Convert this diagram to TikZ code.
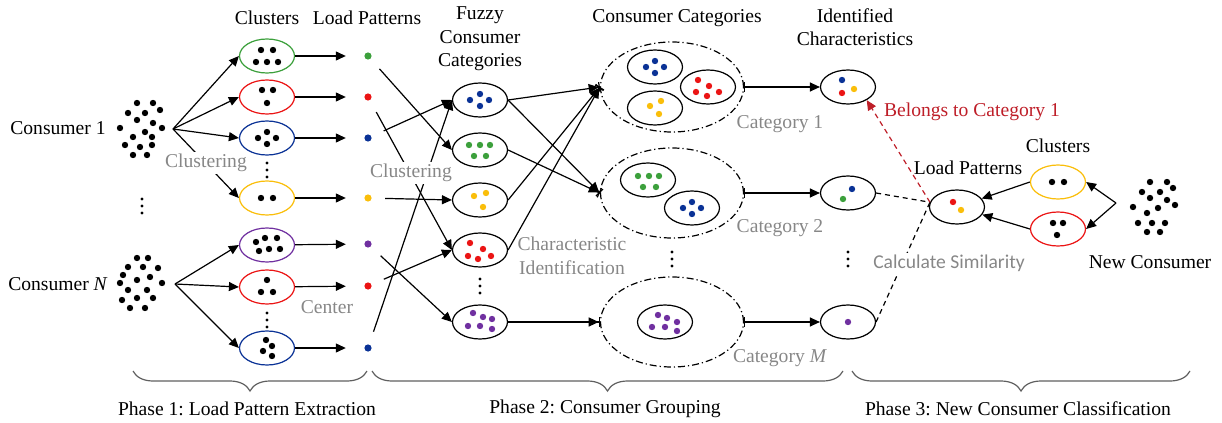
\documentclass[tikz,border=0pt]{standalone}
\usepackage{fontspec}
\setmainfont{Liberation Serif}
\newfontfamily\calfont{Carlito}
\usetikzlibrary{arrows.meta,shapes.geometric,decorations.pathreplacing}
\definecolor{cgreen}{RGB}{60,160,60}
\definecolor{cred}{RGB}{235,20,20}
\definecolor{cblue}{RGB}{10,50,150}
\definecolor{cyellow}{RGB}{250,190,10}
\definecolor{cpurple}{RGB}{112,48,160}
\definecolor{cgray}{RGB}{135,135,135}
\definecolor{cdred}{RGB}{190,30,40}
\frenchspacing

\tikzset{
  grp/.style={ellipse,draw,fill=white,minimum width=27.5pt,minimum height=17pt,inner sep=0pt},
  catbox/.style={ellipse,draw,dash pattern=on 3.5pt off 1.5pt on 0.6pt off 1.5pt,minimum width=71.5pt,minimum height=45pt,inner sep=0pt},
  lp/.style={circle,inner sep=0pt,minimum size=3.6pt},
  barr/.style={-{Triangle[length=5pt,width=4.5pt] Bar[width=5pt]}},
  gtext/.style={text=cgray},
  dash line/.style={dash pattern=on 2.5pt off 2pt},
}
% dots around a point
\newcommand\spots[3]{\begin{scope}[shift={(#1)}]
  \foreach \p in {#3} \fill[#2] \p circle (1.6pt);
\end{scope}}
% vertical ellipsis
\newcommand\vstack[1]{\begin{scope}[shift={(#1)}]
  \foreach \y in {-7,0,7} \fill (0,\y) circle (0.8pt);
\end{scope}}

\begin{document}
\begin{tikzpicture}[x=0.5pt,y=-0.5pt,font=\fontsize{9.8pt}{11.8pt}\selectfont,
    >={Triangle[length=5pt,width=4.5pt]},line width=0.6pt]
    \useasboundingbox (0,0) rectangle (1222,423);

    % titles
    \node (tClu) at (267,18) {Clusters};
    \node (tLP) at (367,18) {Load Patterns};
    \node[align=center] (tFuz) at (480,39) {Fuzzy\\Consumer\\Categories};
    \node (tCat) at (677,18) {Consumer Categories};
    \node[align=center] (tIde) at (855,27) {Identified\\Characteristics};

    % Phase 1
    \node (con1) at (58,128) {Consumer 1};
    \node (conN) at (58,284) {Consumer \textit{N}};
    \coordinate (cl1) at (141,129);
    \coordinate (clN) at (141,283);
    \coordinate (s1) at (173,129);
    \coordinate (sN) at (175,284);
    \spots{cl1}{black}{(-4,-26),(12,-26),(-13,-16),(4,-16),(19,-19),(-4,-9),(12,-6),(-21,-1),(4,3),(21,-1),(-8,8),(11,8),(-16,16),(-1,18),(11,16),(-8,26),(6,26)}
    \spots{clN}{black}{(-4,-25),(7,-25),(-13,-16),(2,-16),(17,-15),(-18,-8),(-4,-3),(9,-6),(-21,0),(-13,7),(6,7),(21,0),(-19,17),(-4,15),(12,15),(-11,25),(4,25)}
    \coordinate (vd1) at (142,206);
    \vstack{vd1}

    \node[grp,draw=cgreen] (c1) at (267,56) {};
    \node[grp,draw=cred] (c2) at (267,97) {};
    \node[grp,draw=cblue] (c3) at (267,138) {};
    \node[grp,draw=cyellow] (c4) at (267,198) {};
    \node[grp,draw=cpurple] (c5) at (267,245) {};
    \node[grp,draw=cred] (c6) at (267,287) {};
    \node[grp,draw=cblue] (c7) at (267,348) {};
    \spots{c1}{black}{(-6,-6),(6,-6),(-11,6),(0,6),(11,6)}
    \spots{c2}{black}{(-5,-7),(6,-7),(0,6)}
    \spots{c3}{black}{(-9,0),(0,-6),(9,0),(0,6)}
    \spots{c4}{black}{(-6,0),(6,0)}
    \spots{c5}{black}{(-11,-3),(-2,-7),(10,-7),(-8,6),(2,4),(13,4)}
    \spots{c6}{black}{(0,-7),(-6,5),(6,5)}
    \spots{c7}{black}{(-1,-8),(5,-2),(-4,3),(5,8)}
    \coordinate (vd2) at (267,170);
    \coordinate (vd3) at (267,320);
    \vstack{vd2} \vstack{vd3}

    \node[lp,fill=cgreen] (p1) at (368,56) {};
    \node[lp,fill=cred] (p2) at (368,97) {};
    \node[lp,fill=cblue] (p3) at (368,138) {};
    \node[lp,fill=cyellow] (p4) at (368,198) {};
    \node[lp,fill=cpurple] (p5) at (368,244) {};
    \node[lp,fill=cred] (p6) at (368,286) {};
    \node[lp,fill=cblue] (p7) at (368,348) {};

    \foreach \i in {1,...,4} \draw[->] (s1) -- (c\i.west);
    \foreach \i in {5,6,7} \draw[->] (sN) -- (c\i.west);
    \foreach \i in {1,...,7} \draw[->,shorten >=9pt] (c\i) -- (p\i);

    % Phase 2
    \node[grp] (f1) at (480,100) {};
    \node[grp] (f2) at (480,150) {};
    \node[grp] (f3) at (480,200) {};
    \node[grp] (f4) at (480,250) {};
    \node[grp] (f5) at (480,322) {};
    \spots{f1}{cblue}{(-10,0),(0,-6),(9,0),(0,6)}
    \spots{f2}{cgreen}{(-11,-5),(0,-5),(10,-5),(-6,6),(6,6)}
    \spots{f3}{cyellow}{(-6,-4),(6,-7),(3,7)}
    \spots{f4}{cred}{(-10,-7),(3,-1),(-12,6),(-2,9),(11,6)}
    \spots{f5}{cpurple}{(-7,-9),(3,-5),(12,-3),(-12,4),(0,4),(12,7)}
    \coordinate (vd4) at (480,286);
    \vstack{vd4}

    \draw[->,shorten <=6.5pt] (p1) -- (f2.west);
    \draw[->,shorten <=6.5pt] (p2) -- (f4.west);
    \draw[->,shorten <=6.5pt] (p3) -- (f1.west);
    \draw[->,shorten <=6.5pt] (p4) -- (f3.west);
    \draw[->,shorten <=6.5pt] (p5) -- (f5.west);
    \draw[->,shorten <=6.5pt] (p6) -- (f4.west);
    \draw[->,shorten <=6.5pt] (p7) -- (f1.west);

    \node[catbox] (k1) at (672,87) {};
    \node[catbox] (k2) at (672,193) {};
    \node[catbox] (kM) at (672,322) {};
    \node[grp] (k1a) at (655,67) {};
    \node[grp] (k1c) at (655,108) {};
    \node[grp] (k1b) at (708,87) {};
    \node[grp] (k2a) at (648,180) {};
    \node[grp] (k2b) at (692,208) {};
    \node[grp] (kMa) at (665,322) {};
    \spots{k1a}{cblue}{(-9,0),(0,-6),(9,0),(0,6)}
    \spots{k1b}{cred}{(-10,-7),(1,-1),(-12,5),(-1,9),(11,5)}
    \spots{k1c}{cyellow}{(-5,-2),(6,-7),(4,6)}
    \spots{k2a}{cgreen}{(-10,-4),(1,-4),(11,-4),(-5,7),(8,7)}
    \spots{k2b}{cblue}{(-9,0),(0,-6),(9,0),(0,6)}
    \spots{kMa}{cpurple}{(-7,-7),(2,-4),(12,0),(-13,5),(0,5),(12,9)}
    \coordinate (vd5) at (672,259);
    \vstack{vd5}

    \draw[barr] (f1.east) -- (k1.west);
    \draw[barr] (f1.east) -- (k2.west);
    \draw[barr] (f2.east) -- (k2.west);
    \draw[barr] (f3.east) -- (k1.west);
    \draw[barr] (f4.east) -- (k1.west);
    \draw[barr] (f5) -- (kM);

    \node[grp] (i1) at (848,87) {};
    \node[grp] (i2) at (848,193) {};
    \node[grp] (iM) at (848,322) {};
    \spots{i1}{cblue}{(-6,-7)}
    \spots{i1}{cred}{(-6,6)}
    \spots{i1}{cyellow}{(6,2)}
    \spots{i2}{cblue}{(4,-4)}
    \spots{i2}{cgreen}{(-5,6)}
    \spots{iM}{cpurple}{(0,0)}
    \coordinate (vd6) at (848,259);
    \vstack{vd6}

    \foreach \a/\b in {k1/i1,k2/i2,kM/iM}
        \draw[{Bar[width=5pt]}->] (\a) -- (\b);

    % Phase 3
    \node[grp] (lpN) at (957,207) {};
    \node[grp,draw=cyellow] (n1) at (1058,182) {};
    \node[grp,draw=cred] (n2) at (1058,229) {};
    \spots{lpN}{cred}{(-4,-5)}
    \spots{lpN}{cyellow}{(4,3)}
    \spots{n1}{black}{(-6,0),(6,0)}
    \spots{n2}{black}{(-5,-6),(5,-6),(-1,6)}
    \coordinate (clNew) at (1155,207);
    \coordinate (s3) at (1116,203);
    \spots{clNew}{black}{(-5,-25),(12,-25),(-13,-15),(5,-15),(18,-19),(-5,-9),(12,-7),(-22,0),(3,1),(20,-2),(-8,6),(-17,16),(-3,16),(10,16),(-8,25),(5,25)}

    \draw[->] (s3) -- (n1.east);
    \draw[->] (s3) -- (n2.east);
    \draw[->] (n1.west) -- (lpN);
    \draw[->] (n2.west) -- (lpN);
    \draw[dash line] (i2.east) -- (lpN.170);
    \draw[dash line] (iM.east) -- (lpN.170);
    \draw[dash line,cdred,->] (lpN.170) -- (i1.-35);

    % labels
    \node[gtext,fill=white,inner sep=1pt] (lab1) at (206,163) {Clustering};
    \node[gtext,fill=white,inner sep=1pt] (lab2) at (411,173) {Clustering};
    \node[gtext] (lab3) at (327,307) {Center};
    \node[gtext,align=center] (lab4) at (572,256) {Characteristic\\Identification};
    \node[gtext] (lab5) at (780,124) {Category 1};
    \node[gtext] (lab6) at (780,228) {Category 2};
    \node[gtext] (lab7) at (780,358) {Category \textit{M}};
    \node[text=cdred] (lab8) at (972,112) {Belongs to Category 1};
    \node (lab9) at (968,168) {Load Patterns};
    \node (lab10) at (1058,146) {Clusters};
    \node (lab11) at (1150,262) {New Consumer};
    \node[gtext,fill=white,inner sep=1pt,font=\fontsize{9.8pt}{11.8pt}\calfont] (lab12) at (949,263) {Calculate Similarity};

    % phases
    \draw[cgray!70!black,decorate,decoration={brace,amplitude=10pt}] (367,371) -- (133,371);
    \draw[cgray!70!black,decorate,decoration={brace,amplitude=10pt}] (843,371) -- (372,371);
    \draw[cgray!70!black,decorate,decoration={brace,amplitude=10pt}] (1190,371) -- (852,371);
    \node (ph1) at (247,409) {Phase 1: Load Pattern Extraction};
    \node (ph2) at (605,409) {Phase 2: Consumer Grouping};
    \node (ph3) at (1018,409) {Phase 3: New Consumer Classification};
\end{tikzpicture}
\end{document}
